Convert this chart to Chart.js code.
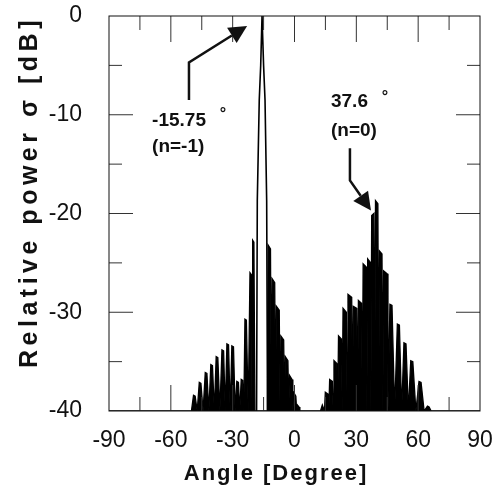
<!DOCTYPE html>
<html>
<head>
<meta charset="utf-8">
<script src="https://cdn.jsdelivr.net/npm/chart.js@4.4.1/dist/chart.umd.min.js"></script>
<style>
  html, body { margin: 0; background: #fff; }
  #wrap { width: 498px; height: 494px; }
</style>
</head>
<body>
<div id="wrap"><canvas id="c"></canvas></div>
<script>
// axis ticks
const xTicks = [-90, -60, -30, 0, 30, 60, 90];
const yTicks = [-40, -30, -20, -10, 0];

// side lobes (angle in degree, relative power in dB)
const sideAngle = [
  -90, -50.0, -49.0, -48.2, -47.2, -46.2, -45.4, -44.35, -43.3, -42.5,
  -41.55, -40.6, -39.8, -38.9, -38.0, -37.2, -36.2, -35.2, -34.4, -33.6,
  -32.8, -32.0, -31.2, -30.4, -29.6, -28.8, -28.0, -27.2, -26.55, -25.85,
  -25.15, -24.6, -24.05, -23.35, -22.45, -21.6, -20.9, -20.6, -20.3, -19.7,
  -19.2,
  -13.1, -12.8, -11.65, -11.25, -10.85, -9.6, -9.2, -8.8, -7.4, -7.0,
  -6.6, -5.25, -4.85, -4.45, -3.2, -2.8, -2.4, -1.2, -0.8, -0.4,
  0.65, 1.05, 1.45, 2.2, 2.6,
  12.6, 13.5, 14.55, 14.95, 16.25, 16.65, 17.05, 18.35, 18.75, 19.15,
  20.55, 20.95, 21.35, 22.75, 23.15, 23.55, 25.15, 25.55, 25.95, 27.75,
  28.15, 28.55, 30.2, 30.6, 31.0, 32.5, 32.9, 33.3, 34.7, 35.1,
  35.5, 36.65, 37.05, 37.45, 38.5, 38.9, 39.3, 40.45, 40.85, 41.25,
  42.45, 42.85, 43.25, 44.95, 45.35, 46.3, 47.3, 48.6, 49.9, 50.9,
  52.0, 53.1, 54.1, 55.25, 56.4, 57.4, 58.9, 60.4, 61.4, 62.9,
  64.5, 65.3, 66.3, 90
];
const sideLevel = [
  -40, -40, -38.4, -38.5, -40, -37.1, -37.2, -40, -36.1, -36.2,
  -40, -35.3, -35.4, -40, -34.5, -34.6, -40, -33.8, -33.9, -40,
  -33.2, -33.3, -40, -33.4, -33.5, -40, -37.0, -37.1, -40, -36.8,
  -36.9, -40, -30.7, -30.8, -40, -26.0, -26.2, -40, -22.7, -22.9,
  -40,
  -40, -23.2, -23.6, -40, -26.6, -27.0, -40, -29.4, -29.8, -40,
  -32.4, -32.8, -40, -34.5, -34.9, -40, -36.4, -36.8, -40, -38.1,
  -38.5, -40, -39.4, -39.6, -40,
  -40, -39.4, -40, -38.1, -38.3, -40, -36.8, -37.0, -40, -34.9,
  -35.2, -40, -32.4, -32.7, -40, -29.6, -30.0, -40, -28.2, -28.5,
  -40, -29.4, -29.6, -40, -28.8, -29.1, -40, -25.1, -25.4, -40,
  -24.6, -24.9, -40, -20.2, -20.0, -40, -18.7, -19.0, -40, -23.8,
  -24.1, -40, -25.8, -26.1, -40, -29.2, -29.3, -40, -31.2, -31.3,
  -40, -33.1, -33.2, -40, -34.9, -35.0, -40, -37.0, -37.1, -40,
  -39.5, -39.6, -40, -40
];

// main lobe (n = -1)
const mainAngle = [-18.4, -18.05, -17.1, -16.4, -15.75, -15.0, -14.3, -13.5, -13.1];
const mainLevel = [-40, -18.7, -8.5, -5.0, 0, -5.0, -8.5, -18.7, -40];

const tickFamily = "'Liberation Sans Narrow', 'Liberation Sans', Arial, sans-serif";
const boldFamily = "'Liberation Sans', Arial, sans-serif";

const toPoints = (xs, ys) => xs.map((v, i) => ({ x: v, y: ys[i] }));

function seg(ctx, x1, y1, x2, y2) {
  ctx.beginPath();
  ctx.moveTo(x1, y1);
  ctx.lineTo(x2, y2);
  ctx.stroke();
}

// box + inward ticks on all four sides
const frame = {
  id: 'frame',
  afterDatasetsDraw(chart) {
    const { ctx, chartArea: a, scales: { x, y } } = chart;
    ctx.save();
    ctx.strokeStyle = '#333';
    ctx.lineWidth = 1;
    for (let v = -75; v <= 75; v += 15) {
      const px = x.getPixelForValue(v);
      const len = v % 30 === 0 ? 26 : 14;
      seg(ctx, px, a.bottom, px, a.bottom - len);
      seg(ctx, px, a.top, px, a.top + len);
    }
    for (let v = -35; v <= -5; v += 5) {
      const py = y.getPixelForValue(v);
      const len = v % 10 === 0 ? 24 : 13;
      seg(ctx, a.left, py, a.left + len, py);
      seg(ctx, a.right, py, a.right - len, py);
    }
    ctx.strokeStyle = '#111';
    ctx.strokeRect(a.left, a.top, a.right - a.left, a.bottom - a.top);
    ctx.restore();
  }
};

function arrow(ctx, pts) {
  const n = pts.length;
  const [tx, ty] = pts[n - 1];
  const [px, py] = pts[n - 2];
  const d = Math.hypot(tx - px, ty - py);
  const ux = (tx - px) / d, uy = (ty - py) / d;
  const bx = tx - ux * 18, by = ty - uy * 18;
  ctx.beginPath();
  ctx.moveTo(pts[0][0], pts[0][1]);
  for (let i = 1; i < n - 1; i++) ctx.lineTo(pts[i][0], pts[i][1]);
  ctx.lineTo(bx, by);
  ctx.stroke();
  ctx.beginPath();
  ctx.moveTo(tx, ty);
  ctx.lineTo(bx - uy * 9, by + ux * 9);
  ctx.lineTo(bx + uy * 9, by - ux * 9);
  ctx.closePath();
  ctx.fill();
}

// peak labels and axis titles
const notes = {
  id: 'notes',
  afterDraw(chart) {
    const { ctx, scales: { x, y } } = chart;
    const P = (ang, db) => [x.getPixelForValue(ang), y.getPixelForValue(db)];
    ctx.save();
    ctx.fillStyle = '#111';
    ctx.strokeStyle = '#111';
    ctx.lineWidth = 2.5;
    arrow(ctx, [P(-51.2, -8.5), P(-51.2, -4.7), P(-23.0, -1.0)]);
    arrow(ctx, [P(26.9, -13.4), P(26.9, -16.65), P(37.1, -19.7)]);

    ctx.font = 'bold 19px ' + boldFamily;
    ctx.textAlign = 'left';
    ctx.textBaseline = 'middle';
    let p = P(-69.1, -10.6); ctx.fillText('-15.75', p[0], p[1]);
    p = P(-69.1, -13.2); ctx.fillText('(n=-1)', p[0], p[1]);
    p = P(17.7, -8.68); ctx.fillText('37.6', p[0], p[1]);
    p = P(17.7, -11.6); ctx.fillText('(n=0)', p[0], p[1]);
    ctx.font = 'bold 16px ' + boldFamily;
    ctx.textAlign = 'center';
    ctx.textBaseline = 'alphabetic';
    p = P(-34.7, -10.46); ctx.fillText('°', p[0], p[1]);
    p = P(43.9, -8.73); ctx.fillText('°', p[0], p[1]);

    // axis titles
    ctx.textBaseline = 'middle';
    ctx.font = 'bold 22px ' + boldFamily;
    ctx.letterSpacing = '2px';
    ctx.fillText('Angle [Degree]', 276, 474);
    ctx.translate(30, 192);
    ctx.rotate(-Math.PI / 2);
    ctx.font = 'bold 25px ' + boldFamily;
    ctx.letterSpacing = '4.5px';
    ctx.fillText('Relative power σ [dB]', 0, 0);
    ctx.restore();
  }
};

new Chart(document.getElementById('c'), {
  type: 'line',
  data: {
    datasets: [
      {
        data: toPoints(sideAngle, sideLevel),
        borderColor: '#000',
        backgroundColor: '#000',
        borderWidth: 1.3,
        fill: 'start',
        pointRadius: 0,
        tension: 0
      },
      {
        data: toPoints(mainAngle, mainLevel),
        borderColor: '#000',
        borderWidth: 1.6,
        fill: false,
        pointRadius: 0,
        tension: 0
      }
    ]
  },
  options: {
    responsive: true,
    maintainAspectRatio: false,
    animation: false,
    events: [],
    layout: { padding: { left: 0, right: 18, top: 16, bottom: 0 } },
    plugins: { legend: { display: false }, tooltip: { enabled: false } },
    scales: {
      x: {
        type: 'linear',
        min: -90,
        max: 90,
        afterFit: s => { s.height = 83; s.paddingLeft = 0; s.paddingRight = 0; },
        afterBuildTicks: s => { s.ticks = xTicks.map(v => ({ value: v })); },
        grid: { display: false, drawTicks: false },
        border: { display: false },
        ticks: { padding: 16, color: '#111', font: { family: tickFamily, size: 23 } }
      },
      y: {
        min: -40,
        max: 0,
        afterFit: s => { s.width = 109; s.paddingTop = 0; s.paddingBottom = 0; },
        afterBuildTicks: s => { s.ticks = yTicks.map(v => ({ value: v })); },
        grid: { display: false, drawTicks: false },
        border: { display: false },
        ticks: { padding: 27, color: '#111', font: { family: tickFamily, size: 23 } }
      }
    }
  },
  plugins: [frame, notes]
});
</script>
</body>
</html>
